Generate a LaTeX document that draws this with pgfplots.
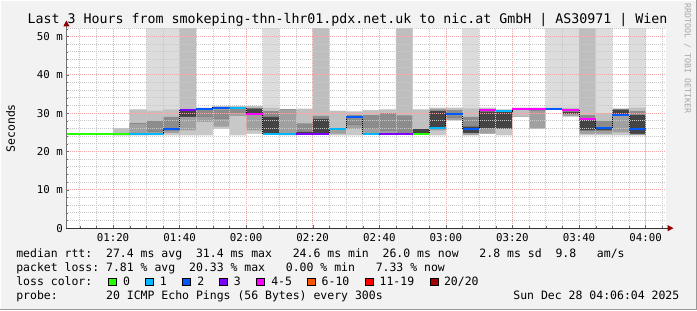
\documentclass[border=0pt]{standalone}
\usepackage{fontspec}
\setmainfont{DejaVu Sans Mono}
\setmonofont{DejaVu Sans Mono}
\usepackage{pgfplots}
\usepackage{pgfplotstable}
\pgfplotsset{compat=1.18}
\usetikzlibrary{arrows.meta}
\definecolor{bgc}{HTML}{F2F2F2}
\definecolor{gridr}{HTML}{F2A8A8}
\definecolor{gridg}{HTML}{C8C8C8}
\definecolor{lcA}{HTML}{26FF00}
\definecolor{lcB}{HTML}{00B8FF}
\definecolor{lcC}{HTML}{0059FF}
\definecolor{lcD}{HTML}{7E00FF}
\definecolor{lcE}{HTML}{FF00FF}
\definecolor{lcF}{HTML}{FF5500}
\definecolor{lcG}{HTML}{FF0000}
\definecolor{lcH}{HTML}{A00000}
\definecolor{sm1}{HTML}{C8C8C8}
\definecolor{sm2}{HTML}{A0A0A0}
\definecolor{sm3}{HTML}{444444}
\definecolor{sm4}{HTML}{8C8C8C}
\definecolor{sm5}{HTML}{C0C0C0}
\definecolor{sm6}{HTML}{DCDCDC}
\definecolor{sm7}{HTML}{BEBEBE}
\newcommand{\tfont}{\fontsize{10.8}{13}\selectfont}
\newcommand{\lfont}{\fontsize{11.5}{14}\selectfont}
\pgfplotsset{
  frame/.style={at={(66pt,82pt)}, anchor=south west,
    scale only axis, width=600pt, height=200pt,
    xmin=66, xmax=246, ymin=0, ymax=52.083},
}
% smoke bands: cumulative boundaries per 5-minute interval (x = interval start, minutes after 00:00)
\pgfplotstableread{
x c0 c1 c2 c3 c4 c5 c6 c7
80 24.2 24.2 24.2 24.2 24.2 26.1 26.1 26.1
85 24.2 24.2 27.3 27.3 27.3 30.9 30.9 30.9
90 24.2 24.4 25.1 25.1 28.0 30.6 60 30.6
95 24.2 24.8 25.5 25.5 29.0 30.9 60 30.9
100 24.2 25.5 29.0 30.5 30.5 31.2 31.2 60
105 24.2 27.7 29.0 29.0 31.0 31.4 31.4 31.4
110 25.9 26.5 28.5 28.5 31.0 31.8 31.8 31.8
115 24.2 29.2 30.0 30.0 31.5 31.8 31.8 31.8
120 24.6 25.5 30.0 31.2 31.4 31.8 31.8 31.8
125 24.4 24.4 24.7 29.0 30.5 31.4 60 31.4
130 24.2 24.6 30.9 30.9 30.9 30.9 30.9 30.9
135 24.4 24.6 24.6 25.1 27.3 31.1 31.1 31.1
140 24.4 24.4 24.6 28.5 29.3 29.3 29.3 60
145 24.2 24.6 25.9 25.9 26.0 30.6 30.6 30.6
150 24.2 25.8 27.0 27.0 29.5 30.4 30.4 30.4
155 24.4 24.7 26.0 26.0 29.5 30.7 30.7 30.7
160 24.4 24.6 25.5 25.5 30.0 30.9 30.9 30.9
165 24.4 24.4 24.7 24.7 29.4 29.4 29.4 60
170 24.4 24.6 24.6 25.8 25.8 30.9 30.9 30.9
175 24.2 25.5 26.0 30.5 31.0 31.4 31.4 31.4
180 28.1 28.1 28.8 28.8 30.8 31.4 31.4 31.4
185 24.2 24.2 24.8 26.5 29.0 31.2 60 31.2
190 24.6 24.6 26.0 30.4 31.0 31.4 31.4 31.4
195 24.2 25.9 25.9 30.3 30.5 30.9 30.9 30.9
200 29.0 29.0 29.0 29.0 29.0 31.4 31.4 31.4
205 25.9 25.9 30.7 30.7 30.7 31.4 31.4 31.4
210 31.0 31.0 31.0 31.0 31.0 31.4 60 31.4
215 29.0 29.3 29.8 30.3 30.8 31.4 60 31.4
220 24.2 24.6 25.5 28.5 29.5 30.3 30.3 60
225 24.2 24.6 25.5 26.3 28.0 30.0 60 30.0
230 24.2 25.0 29.4 30.9 31.0 31.2 31.2 31.2
235 24.2 24.2 24.6 29.5 30.5 31.4 60 31.4
240 24.2 24.2 24.6 29.5 30.5 31.4 60 31.4
}\smoke
\begin{document}
\frenchspacing
\begin{tikzpicture}[x=1pt,y=1pt]
\fill[bgc] (0,0) rectangle (697,310);
\draw[white, line width=1pt] (0.5,0) -- (0.5,309.5) -- (697,309.5);
\draw[black!40, line width=1pt] (0,0.5) -- (696.5,0.5) -- (696.5,310);
\fill[white] (66,82) rectangle (666,282);
% axis 1: smoke, with grid and ticks on top
\begin{axis}[frame,
  axis on top,
  axis line style={draw=none},
  xtick={80,100,...,240},
  xticklabels={01:20,01:40,02:00,02:20,02:40,03:00,03:20,03:40,04:00},
  minor xtick={70,75,85,90,95,105,110,115,125,130,135,145,150,155,165,170,175,185,190,195,205,210,215,225,230,235,245},
  ytick={0,10,...,50},
  yticklabels={0,10 m,20 m,30 m,40 m,50 m},
  minor ytick={2,4,6,8,12,14,16,18,22,24,26,28,32,34,36,38,42,44,46,48,52},
  grid=both,
  major grid style={color=gridr, line width=0.7pt, dash pattern=on 1pt off 1pt},
  minor grid style={color=gridg, line width=0.7pt, dash pattern=on 1pt off 1pt},
  xtick pos=bottom, ytick pos=left,
  major tick length=3pt, minor tick length=2pt,
  tick style={color=black!60},
  ticklabel style={font=\tfont, text=black},
  xticklabel style={yshift=-1.5pt},
]
\addplot[fill=sm6, draw=none, const plot mark left] table[x=x,y=c6]{\smoke} \closedcycle;
\addplot[fill=sm7, draw=none, const plot mark left] table[x=x,y=c7]{\smoke} \closedcycle;
\addplot[fill=sm5, draw=none, const plot mark left] table[x=x,y=c5]{\smoke} \closedcycle;
\addplot[fill=sm4, draw=none, const plot mark left] table[x=x,y=c4]{\smoke} \closedcycle;
\addplot[fill=sm3, draw=none, const plot mark left] table[x=x,y=c3]{\smoke} \closedcycle;
\addplot[fill=sm2, draw=none, const plot mark left] table[x=x,y=c2]{\smoke} \closedcycle;
\addplot[fill=sm1, draw=none, const plot mark left] table[x=x,y=c1]{\smoke} \closedcycle;
\addplot[fill=white, draw=none, const plot mark left] table[x=x,y=c0]{\smoke} \closedcycle;
\end{axis}
% axis 2: median line over the grid
\begin{axis}[frame, hide axis]
\addplot[black, line width=0.8pt, dash pattern=on 1pt off 1pt, const plot mark left] coordinates {
(66,24.6) (85,24.6) (90,24.6) (95,25.9) (100,30.7) (105,31.1) (110,31.4) (115,31.3) (120,29.7)
(125,24.6) (130,24.6) (135,24.6) (140,24.6) (145,25.9) (150,29.0) (155,24.6) (160,24.6)
(165,24.6) (170,24.6) (175,26.1) (180,29.7) (185,25.9) (190,30.7) (195,30.5) (200,31.1)
(205,31.1) (210,31.1) (215,30.8) (220,28.6) (225,26.1) (230,29.5) (235,25.9) (240,25.9)};
\addplot[lcA, line width=2pt, unbounded coords=jump] coordinates {
(66,24.6) (85,24.6) (85,nan) (170,24.6) (175,24.6)};
\addplot[lcB, line width=2pt, unbounded coords=jump] coordinates {
(85,24.6) (95,24.6) (95,nan) (115,31.3) (120,31.3) (120,nan) (125,24.6) (135,24.6) (135,nan)
(145,25.9) (150,25.9) (150,nan) (155,24.6) (160,24.6) (160,nan) (175,26.1) (180,26.1) (180,nan)
(195,30.5) (200,30.5)};
\addplot[lcC, line width=2pt, unbounded coords=jump] coordinates {
(95,25.9) (100,25.9) (100,nan) (105,31.1) (110,31.1) (110,nan) (110,31.4) (115,31.4) (115,nan)
(150,29.0) (155,29.0) (155,nan) (180,29.7) (185,29.7) (185,nan) (185,25.9) (190,25.9) (190,nan)
(210,31.1) (215,31.1) (215,nan) (225,26.1) (230,26.1) (230,nan) (230,29.5) (235,29.5) (235,nan)
(235,25.9) (240,25.9)};
\addplot[lcD, line width=2pt, unbounded coords=jump] coordinates {
(100,30.7) (105,30.7) (105,nan) (135,24.6) (145,24.6) (145,nan) (160,24.6) (170,24.6)};
\addplot[lcE, line width=2pt, unbounded coords=jump] coordinates {
(120,29.7) (125,29.7) (125,nan) (190,30.7) (195,30.7) (195,nan) (200,31.1) (210,31.1) (210,nan)
(215,30.8) (220,30.8) (220,nan) (220,28.6) (225,28.6)};
\end{axis}
% axis lines with arrows
\draw[black!55, line width=1pt, -{Triangle[width=6pt,length=6pt,color=lcH!90!black]}] (66,81.5) -- (66,290);
\draw[black!80, line width=1pt, -{Triangle[width=6pt,length=6pt,color=lcH!90!black]}] (65.5,82) -- (674,82);
% title and labels
\node[font=\fontsize{13.3}{16}\selectfont, anchor=base west, inner sep=0] at (27,287) {Last 3 Hours from smokeping-thn-lhr01.pdx.net.uk to nic.at GmbH | AS30971 | Wien};
\node[font=\lfont, rotate=90, inner sep=0] at (10,182) {Seconds};
\node[font=\fontsize{8.3}{10}\selectfont, text=black!35, rotate=-90, anchor=west, inner sep=0] at (688,307) {RRDTOOL / TOBI OETIKER};
% legend
\node[font=\lfont, anchor=base west, inner sep=0] at (15.6,52.3) {median rtt:\ \ 27.4 ms avg\ \ 31.4 ms max\ \ \ 24.6 ms min\ \ 26.0 ms now\ \ \ 2.8 ms sd\ \ 9.8\ \ \ am/s};
\node[font=\lfont, anchor=base west, inner sep=0] at (15.6,38.3) {packet loss: 7.81 \% avg\ \ 20.33 \% max\ \ \ 0.00 \% min\ \ \ 7.33 \% now};
\node[font=\lfont, anchor=base west, inner sep=0] at (15.6,24.3) {loss color:};
\node[font=\lfont, anchor=base west, inner sep=0] at (15.6,10.7) {probe:\ \ \ \ \ \ \ 20 ICMP Echo Pings (56 Bytes) every 300s};
\node[font=\lfont, anchor=base east, inner sep=0] at (680,10.7) {Sun Dec 28 04:06:04 2025};
\foreach \bx/\lx/\c/\t in {108/122.5/lcA/{0}, 145.3/159.5/lcB/{1}, 182.2/197/lcC/{2}, 219.1/233.5/lcD/{3}, 256.4/271/lcE/{4-5}, 307.1/321.5/lcF/{6-10}, 365.3/379.5/lcG/{11-19}, 430.2/444/lcH/{20/20}}{
  \filldraw[fill=\c, draw=black, line width=0.6pt] (\bx,24.3) rectangle ++(8,8);
  \node[font=\lfont, anchor=base west, inner sep=0] at (\lx,24.3) {\t};
}
\end{tikzpicture}
\end{document}
